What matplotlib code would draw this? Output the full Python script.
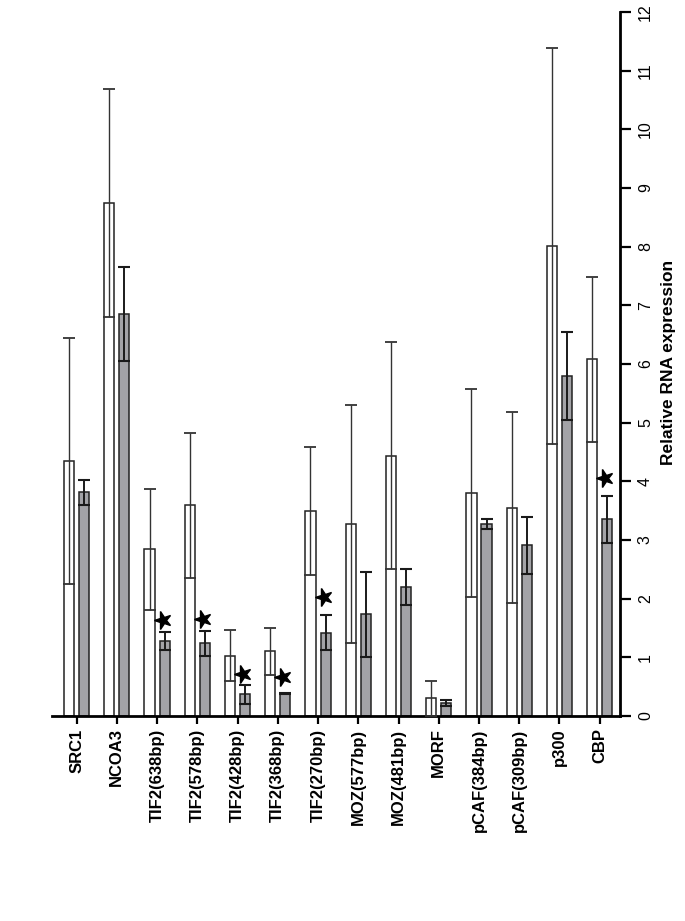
import matplotlib
matplotlib.use("Agg")
import matplotlib.pyplot as plt
import numpy as np
from matplotlib.markers import MarkerStyle
from matplotlib.transforms import Affine2D

categories = ["SRC1", "NCOA3", "TIF2(638bp)", "TIF2(578bp)", "TIF2(428bp)",
              "TIF2(368bp)", "TIF2(270bp)", "MOZ(577bp)", "MOZ(481bp)", "MORF",
              "pCAF(384bp)", "pCAF(309bp)", "p300", "CBP"]
white_vals = [4.35, 8.74, 2.84, 3.59, 1.03, 1.10, 3.50, 3.27, 4.44, 0.30, 3.80, 3.55, 8.01, 6.08]
white_err = [2.10, 1.94, 1.03, 1.23, 0.43, 0.40, 1.09, 2.03, 1.93, 0.30, 1.77, 1.63, 3.38, 1.41]
gray_vals = [3.81, 6.85, 1.28, 1.24, 0.37, 0.39, 1.42, 1.73, 2.20, 0.22, 3.27, 2.91, 5.80, 3.35]
gray_err = [0.22, 0.80, 0.15, 0.21, 0.16, 0.01, 0.30, 0.73, 0.30, 0.05, 0.09, 0.49, 0.75, 0.40]
star_cats = ["TIF2(638bp)", "TIF2(578bp)", "TIF2(428bp)", "TIF2(368bp)", "TIF2(270bp)", "CBP"]
star_vals = [1.64, 1.65, 0.71, 0.67, 2.03, 4.06]
yticks = list(range(0, 13))
ylabel = "Relative RNA expression"

FONT = ["Liberation Sans", "DejaVu Sans"]
plt.rcParams['font.family'] = FONT

fig = plt.figure(figsize=(6.85, 9.21), dpi=100)
ax = fig.add_axes([0.0759, 0.2226, 0.829, 0.7644])

x = np.arange(len(categories))
off = 0.187
w = 0.25
gray = "#a3a3a7"

ax.bar(x - off, white_vals, width=w, color="white", edgecolor="#222222", linewidth=1.1, zorder=2)
ax.errorbar(x - off, white_vals, yerr=white_err, fmt="none", ecolor="#333333",
            elinewidth=1.0, capsize=4, capthick=1.3, zorder=3)
ax.bar(x + off, gray_vals, width=w, color=gray, edgecolor="#222222", linewidth=1.1, zorder=2)
ax.errorbar(x + off, gray_vals, yerr=gray_err, fmt="none", ecolor="#1a1a1a",
            elinewidth=1.4, capsize=4, capthick=1.5, zorder=3)

star = MarkerStyle("*", transform=Affine2D().rotate_deg(90))
sx = [categories.index(c) + off - 0.05 for c in star_cats]
ax.plot(sx, star_vals, linestyle="none", marker=star, markersize=13,
        color="black", zorder=4)

ax.set_xlim(-0.61, 13.5)
ax.set_ylim(0, 12)

for s in ["top", "left"]:
    ax.spines[s].set_visible(False)
ax.spines["right"].set_linewidth(2.0)
ax.spines["bottom"].set_linewidth(2.0)

ax.yaxis.tick_right()
ax.set_yticks(yticks)
ax.set_yticklabels([str(t) for t in yticks], rotation=90, va="center", ha="left",
                   fontsize=11.5)
ax.tick_params(axis="y", direction="out", length=8, width=1.6, pad=5)
ax.set_xticks(x)
ax.set_xticklabels(categories, rotation=90, fontsize=12, fontweight="bold",
                   ha="center", va="top")
ax.tick_params(axis="x", direction="out", length=6, width=1.6, pad=3)

fig.text(669 / 685, 1 - 362 / 921, ylabel, rotation=90, fontsize=12.5,
         fontweight="bold", ha="center", va="center")

fig.savefig("out.png", dpi=100)
